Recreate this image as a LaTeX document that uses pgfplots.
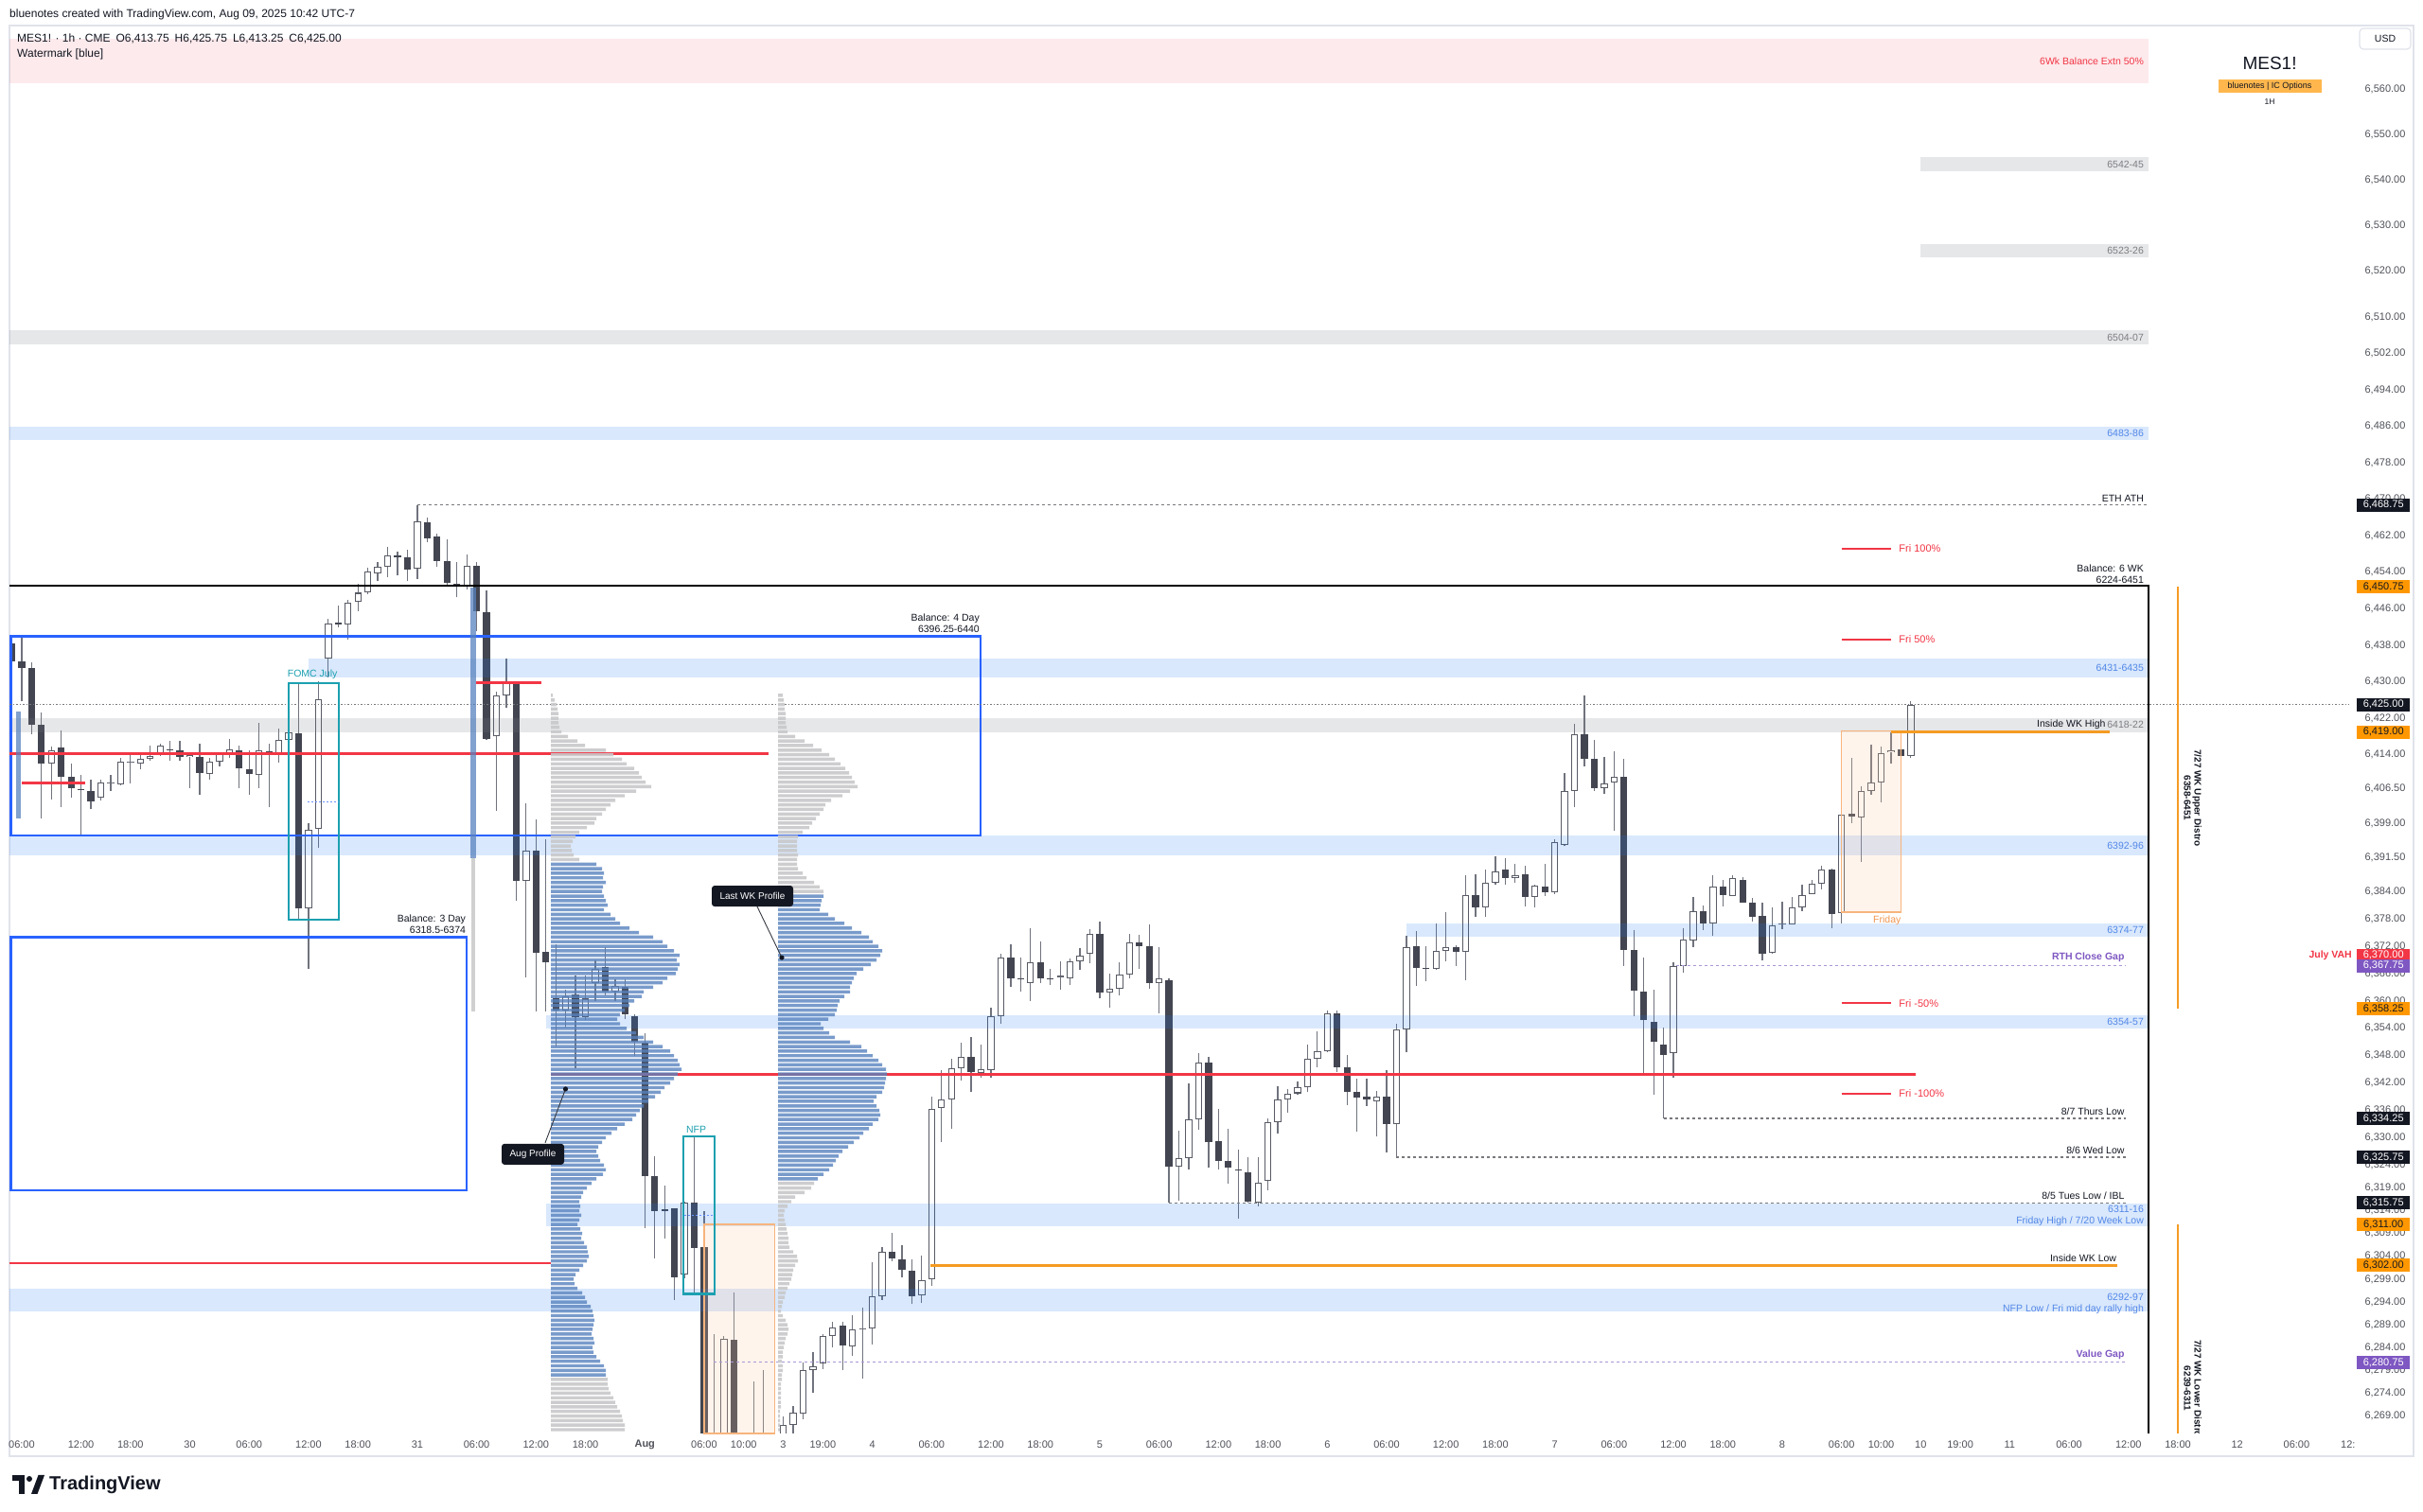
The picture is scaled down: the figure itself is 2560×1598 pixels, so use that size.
\documentclass[border=0pt]{standalone}
\usepackage{fontspec}
\setmainfont{Liberation Sans}
\usepackage{pgfplots}
\usepackage{pgfplotstable}
\pgfplotsset{compat=1.18}

\definecolor{tvblack}{RGB}{19,23,34}
\definecolor{ticktext}{RGB}{80,82,90}
\definecolor{tvframe}{RGB}{224,227,235}
\definecolor{bluebandc}{RGB}{33,120,243}
\definecolor{graybandc}{RGB}{120,123,134}
\definecolor{bandtext}{RGB}{82,135,232}
\definecolor{graytext}{RGB}{125,125,130}
\definecolor{tvred}{RGB}{242,54,69}
\definecolor{tvblue}{RGB}{41,98,255}
\definecolor{tvteal}{RGB}{28,160,176}
\definecolor{tvorange}{RGB}{255,152,0}
\definecolor{orangeline}{RGB}{245,155,35}
\definecolor{tvpurple}{RGB}{126,87,194}
\definecolor{lavender}{RGB}{170,150,215}
\definecolor{candledark}{RGB}{67,70,81}
\definecolor{candleborder}{RGB}{88,91,101}
\definecolor{wickc}{RGB}{112,115,125}
\definecolor{profblue}{RGB}{88,130,190}
\definecolor{profgray}{RGB}{200,200,202}
\definecolor{boxc}{RGB}{255,200,160}
\definecolor{boxedge}{RGB}{247,180,125}
\definecolor{fridaytext}{RGB}{240,150,80}
\definecolor{wmorange}{RGB}{255,183,77}
\definecolor{dotgray}{RGB}{120,120,125}

\pgfplotstableread{
i o h l c
3 6412.0 6415.75 6404.25 6415.0
8 6404.5 6408.5 6404.0 6408.0
9 6407.75 6409.5 6406.0 6408.0
10 6407.5 6413.25 6407.25 6412.5
11 6412.25 6414.25 6407.75 6412.5
12 6412.0 6414.25 6410.75 6413.0
13 6413.0 6416.0 6412.75 6413.75
14 6414.0 6416.5 6413.75 6416.0
17 6413.5 6414.25 6406.75 6414.0
19 6409.75 6413.25 6408.5 6412.5
20 6412.5 6414.25 6411.5 6414.25
21 6414.25 6417.5 6413.25 6415.25
24 6409.5 6421.0 6406.75 6415.0
26 6414.25 6419.75 6412.25 6417.25
27 6417.25 6419.5 6416.5 6419.0
29 6380.25 6399.0 6367.0 6397.5
30 6397.75 6430.0 6393.5 6426.25
31 6435.0 6443.75 6431.0 6442.75
33 6442.5 6448.0 6439.25 6447.25
34 6447.5 6451.5 6445.5 6449.5
35 6449.5 6455.0 6449.25 6454.25
36 6453.75 6456.25 6452.0 6455.25
37 6455.25 6459.5 6453.0 6457.75
40 6454.75 6468.75 6452.5 6465.25
45 6450.75 6458.0 6450.25 6455.5
48 6418.0 6427.75 6401.75 6427.0
49 6427.0 6435.0 6424.25 6429.75
51 6386.25 6403.25 6365.25 6393.0
55 6358.0 6362.5 6354.25 6361.0
57 6356.5 6365.5 6355.75 6360.5
58 6364.0 6369.0 6360.0 6367.0
60 6362.0 6364.75 6360.0 6363.25
67 6300.0 6316.0 6299.25 6315.75
71 6245.0 6286.5 6236.0 6286.0
73 6250.0 6262.0 6238.0 6255.0
74 6255.0 6276.5 6248.0 6258.0
75 6258.0 6279.0 6252.0 6262.0
77 6263.0 6269.0 6260.0 6267.0
78 6267.0 6271.25 6264.0 6269.75
79 6269.5 6280.75 6268.25 6279.0
80 6279.0 6283.0 6274.0 6280.0
81 6280.5 6287.0 6279.25 6286.5
82 6286.5 6289.75 6284.0 6288.5
84 6284.25 6291.0 6282.25 6288.0
85 6288.0 6292.75 6277.25 6288.25
86 6288.25 6302.75 6284.75 6295.25
87 6295.25 6306.0 6294.5 6305.0
91 6295.5 6304.25 6293.75 6298.75
92 6299.0 6339.0 6297.5 6336.25
93 6336.5 6344.75 6329.0 6338.5
94 6338.5 6347.25 6332.0 6345.25
95 6345.25 6350.75 6342.5 6347.75
97 6344.25 6350.5 6343.25 6345.0
98 6344.75 6358.5 6343.25 6356.75
99 6356.75 6370.25 6355.0 6369.5
102 6364.0 6376.0 6360.0 6368.5
105 6365.25 6368.75 6362.5 6365.5
106 6365.0 6369.25 6363.5 6368.75
107 6368.75 6371.5 6366.75 6370.0
108 6370.25 6375.75 6368.25 6374.75
110 6361.75 6366.0 6358.5 6362.75
111 6362.75 6368.5 6361.25 6365.75
112 6365.75 6374.75 6365.0 6372.75
115 6364.0 6371.75 6357.25 6365.0
117 6323.75 6331.5 6316.25 6325.5
118 6325.5 6342.0 6323.0 6334.0
119 6334.0 6348.5 6331.75 6346.5
125 6315.75 6325.75 6315.0 6320.25
126 6320.5 6334.25 6318.5 6333.5
127 6333.5 6341.25 6331.0 6338.5
128 6338.5 6340.75 6335.5 6339.75
129 6339.75 6342.25 6339.5 6341.0
130 6341.0 6350.5 6340.0 6347.25
131 6347.25 6353.25 6345.5 6349.0
132 6349.0 6358.0 6348.75 6357.25
137 6338.0 6340.25 6330.25 6339.0
139 6333.0 6355.0 6325.75 6353.75
140 6353.75 6374.25 6348.75 6371.75
143 6367.0 6377.0 6366.75 6371.0
144 6371.0 6379.5 6368.75 6371.75
146 6370.75 6387.5 6364.5 6383.25
148 6380.5 6388.75 6378.5 6386.0
149 6386.0 6391.75 6385.5 6388.5
151 6387.0 6390.0 6386.0 6387.5
153 6382.75 6385.5 6380.5 6385.25
155 6383.75 6395.5 6383.5 6394.75
156 6394.25 6410.0 6394.0 6406.0
157 6406.0 6420.75 6402.5 6418.5
160 6406.75 6413.5 6405.5 6407.75
161 6408.0 6414.75 6397.25 6409.25
167 6348.5 6368.5 6343.25 6367.75
168 6367.75 6376.0 6366.25 6373.5
169 6373.25 6382.75 6371.75 6379.75
171 6377.0 6387.5 6374.25 6385.0
173 6383.0 6387.5 6383.0 6387.0
177 6370.5 6380.5 6370.25 6376.5
178 6376.75 6381.75 6375.75 6377.0
179 6376.75 6382.75 6376.75 6380.5
180 6380.5 6385.5 6379.75 6383.25
181 6383.5 6386.5 6383.5 6385.75
182 6385.75 6389.75 6384.5 6388.75
184 6379.25 6401.0 6377.0 6400.75
186 6400.25 6407.0 6390.5 6406.0
187 6406.0 6416.25 6405.25 6408.0
188 6408.0 6415.75 6403.5 6414.25
189 6414.5 6419.0 6412.0 6415.0
191 6413.75 6425.75 6413.25 6425.0
}\upc

\pgfplotstableread{
i o h l c
-1 6438.5 6440.25 6433.0 6434.5
0 6434.5 6440.0 6425.75 6433.0
1 6433.0 6434.25 6418.5 6420.5
2 6420.5 6423.25 6400.0 6412.0
4 6415.5 6419.25 6402.5 6409.25
5 6409.25 6412.0 6404.5 6406.75
6 6406.5 6409.5 6396.25 6406.25
7 6406.0 6408.5 6402.0 6403.75
15 6415.25 6417.0 6412.75 6415.0
16 6415.0 6417.0 6412.75 6413.5
18 6413.5 6416.5 6405.25 6410.0
22 6415.0 6416.0 6406.75 6411.0
23 6410.75 6415.0 6405.25 6409.75
25 6414.75 6416.5 6402.5 6414.25
28 6418.75 6429.5 6378.0 6380.25
32 6443.0 6446.75 6442.0 6442.5
38 6457.75 6458.5 6453.25 6457.25
39 6457.25 6459.0 6452.0 6454.5
41 6465.0 6466.0 6460.5 6461.5
42 6461.75 6462.5 6455.25 6456.5
43 6456.5 6461.25 6451.25 6451.75
44 6451.5 6456.25 6448.5 6451.25
46 6455.5 6456.25 6441.0 6445.5
47 6445.25 6450.0 6417.25 6417.5
50 6429.75 6429.75 6382.0 6386.25
52 6393.0 6399.75 6357.75 6370.5
53 6370.75 6395.5 6357.75 6368.5
54 6360.5 6372.5 6350.0 6358.0
56 6361.5 6365.5 6345.25 6356.5
59 6367.5 6371.75 6361.25 6362.0
61 6363.0 6364.75 6356.0 6357.0
62 6356.75 6357.0 6348.0 6351.0
63 6350.75 6353.0 6310.25 6321.5
64 6321.5 6326.0 6303.5 6314.0
65 6314.25 6319.5 6308.0 6314.0
66 6314.5 6314.5 6294.5 6299.5
68 6315.75 6330.25 6295.5 6305.75
69 6306.0 6314.0 6240.0 6252.0
70 6252.0 6287.0 6228.0 6245.0
72 6285.75 6296.0 6244.0 6250.0
76 6262.0 6264.0 6255.0 6260.0
83 6288.75 6289.75 6279.0 6284.5
88 6305.0 6309.25 6303.0 6303.5
89 6303.25 6306.5 6299.5 6301.0
90 6300.75 6303.25 6293.5 6295.25
96 6347.75 6352.0 6340.0 6344.5
100 6369.5 6372.5 6363.0 6365.0
101 6365.0 6369.5 6362.0 6364.75
103 6368.5 6373.0 6364.0 6365.0
104 6365.0 6367.0 6363.5 6364.75
109 6374.75 6377.5 6360.5 6361.75
113 6372.75 6374.5 6367.0 6372.0
114 6372.0 6376.75 6362.75 6364.0
116 6364.5 6365.0 6315.75 6323.75
120 6346.5 6347.75 6323.5 6329.0
121 6329.25 6336.25 6323.0 6325.0
122 6325.0 6332.0 6320.0 6323.5
123 6323.0 6327.5 6312.25 6322.75
124 6322.5 6325.75 6315.75 6316.0
133 6357.25 6358.0 6344.5 6345.5
134 6345.5 6348.25 6337.25 6340.0
135 6340.0 6343.0 6331.25 6338.75
136 6339.0 6343.0 6337.0 6338.5
138 6339.0 6344.75 6326.75 6333.0
141 6372.0 6375.25 6363.25 6367.25
142 6367.25 6372.0 6364.25 6367.0
145 6371.75 6372.25 6367.75 6370.75
147 6383.25 6387.75 6378.5 6380.5
150 6388.75 6391.25 6385.5 6387.0
152 6387.75 6389.75 6380.75 6382.75
154 6385.0 6390.0 6383.0 6383.75
158 6418.5 6427.0 6411.5 6413.0
159 6413.0 6417.25 6406.0 6406.75
162 6409.25 6413.0 6367.75 6371.25
163 6371.25 6375.5 6356.75 6362.25
164 6362.0 6369.5 6344.0 6355.75
165 6355.5 6362.5 6339.5 6351.0
166 6350.5 6354.25 6334.25 6348.25
170 6379.75 6381.0 6375.5 6377.0
172 6385.0 6386.5 6380.75 6383.25
174 6386.5 6387.25 6381.5 6381.5
175 6381.5 6382.5 6377.5 6378.5
176 6378.75 6381.5 6369.0 6370.25
183 6388.75 6389.0 6376.0 6379.0
185 6401.0 6413.25 6399.0 6400.5
190 6415.25 6415.5 6413.5 6413.75
}\dnc

% Aug profile (volume as length in px from the profile start)
\pgfplotstableread{
p v
6427 2
6426 4
6425 6
6424 7
6423 8
6422 8
6421 8
6420 9
6419 11
6418 18
6417 28
6416 36
6415 58
6414 66
6413 75
6412 80
6411 88
6410 93
6409 96
6408 100
6407 106
6406 90
6405 78
6404 68
6403 63
6402 58
6401 54
6400 48
6399 46
6398 38
6397 30
6396 26
6395 23
6394 21
6393 22
6392 24
6391 30
6277 60
6276 60
6275 61
6274 63
6273 66
6272 68
6271 70
6270 73
6269 75
6268 76
6267 78
6266 78
}\augG

\pgfplotstableread{
p v
6390 48
6389 54
6388 56
6387 55
6386 58
6385 55
6384 54
6383 56
6382 58
6381 60
6380 56
6379 63
6378 68
6377 73
6376 83
6375 93
6374 108
6373 118
6372 123
6371 130
6370 136
6369 133
6368 136
6367 134
6366 132
6365 123
6364 118
6363 108
6362 98
6361 96
6360 88
6359 83
6358 78
6357 73
6356 70
6355 73
6354 80
6353 90
6352 98
6351 108
6350 118
6349 126
6348 130
6347 134
6346 136
6345 138
6344 134
6343 130
6342 126
6341 120
6340 116
6339 110
6338 103
6337 98
6336 94
6335 90
6334 86
6333 78
6332 70
6331 64
6330 58
6329 54
6328 50
6327 48
6326 50
6325 52
6324 56
6323 58
6322 55
6321 48
6320 43
6319 38
6318 34
6317 32
6316 30
6315 31
6314 30
6313 32
6312 30
6311 28
6310 31
6309 33
6308 32
6307 35
6306 38
6305 39
6304 40
6303 38
6302 34
6301 30
6300 26
6299 24
6298 25
6297 28
6296 33
6295 36
6294 38
6293 42
6292 44
6291 45
6290 46
6289 45
6288 44
6287 43
6286 45
6285 46
6284 44
6283 45
6282 48
6281 52
6280 56
6279 58
6278 58
}\augB

% Last week profile
\pgfplotstableread{
p v
6427 5
6426 6
6425 7
6424 7
6423 8
6422 8
6421 8
6420 9
6419 10
6418 18
6417 28
6416 37
6415 46
6414 54
6413 60
6412 66
6411 71
6410 75
6409 78
6408 81
6407 84
6406 76
6405 68
6404 56
6403 50
6402 48
6401 44
6400 40
6399 36
6398 33
6397 26
6396 21
6395 20
6394 20
6393 20
6392 21
6391 20
6390 20
6389 21
6388 26
6387 30
6386 38
6385 44
6384 48
6320 38
6319 35
6318 28
6317 18
6316 14
6315 10
6314 7
6313 6
6312 7
6311 8
6310 9
6309 10
6308 11
6307 11
6306 12
6305 16
6304 20
6303 21
6302 18
6301 16
6300 15
6299 14
6298 12
6297 10
6296 8
6295 7
6294 5
6293 4
6292 3
6291 5
6290 8
6289 10
6288 11
6287 10
6286 8
6285 7
6284 6
6283 5
6282 5
6281 4
6280 5
6279 5
6278 4
6277 4
6276 3
6275 3
6274 3
6273 3
6272 3
6271 3
6270 2
6269 2
6268 2
6267 2
6266 2
}\lwkG

\pgfplotstableread{
p v
6383 48
6382 46
6381 45
6380 44
6379 53
6378 60
6377 70
6376 78
6375 88
6374 96
6373 100
6372 106
6371 110
6370 108
6369 104
6368 98
6367 90
6366 83
6365 80
6364 78
6363 76
6362 76
6361 70
6360 65
6359 63
6358 62
6357 60
6356 53
6355 45
6354 48
6353 54
6352 60
6351 76
6350 88
6349 94
6348 100
6347 106
6346 110
6345 114
6344 115
6343 114
6342 113
6341 112
6340 110
6339 104
6338 101
6337 104
6336 107
6335 108
6334 106
6333 100
6332 96
6331 90
6330 86
6329 80
6328 74
6327 68
6326 64
6325 61
6324 58
6323 54
6322 48
6321 42
}\lwkB

\pgfplotsset{
  common/.style={at={(0pt,0pt)}, anchor=south west, scale only axis,
    width=2472pt, height=1488pt, ymin=6265.17, ymax=6573.88},
}
\tikzset{
  lab/.style={font=\fontsize{10.5}{11.5}\selectfont, inner sep=1pt},
  tag/.style={font=\fontsize{11}{12}\selectfont, inner sep=0pt,
    minimum width=56pt, minimum height=14pt, anchor=west},
}

\begin{document}
\begin{tikzpicture}
\path[use as bounding box] (-10pt,-83pt) rectangle (2550pt,1515pt);
\fill[white] (-10pt,-83pt) rectangle (2550pt,1515pt);
\draw[tvframe, line width=1.5pt] (0pt,-24pt) rectangle (2540pt,1488pt);

%================ main axis: bar index vs price
\begin{axis}[common,
  xmin=-1.2344, xmax=235.32,
  axis line style={draw=none}, major tick length=0pt,
  clip mode=individual,
  xtick={0,6,11,17,23,29,34,40,46,52,57,63,69,73,77,81,86,92,98,103,109,115,121,126,132,138,144,149,155,161,167,172,178,184,188,192,196,201,207,213,218,224,230},
  xticklabels={06:00,12:00,18:00,30,06:00,12:00,18:00,31,06:00,12:00,18:00,{\bfseries Aug},06:00,10:00,3,19:00,4,06:00,12:00,18:00,5,06:00,12:00,18:00,6,06:00,12:00,18:00,7,06:00,12:00,18:00,8,06:00,10:00,10,19:00,11,06:00,12:00,18:00,12,06:00},
  ytick={6560,6550,6540,6530,6520,6510,6502,6494,6486,6478,6470,6462,6454,6446,6438,6430,6422,6414,6406.5,6399,6391.5,6384,6378,6372,6366,6360,6354,6348,6342,6336,6330,6324,6319,6314,6309,6304,6299,6294,6289,6284,6279,6274,6269},
  yticklabel pos=right,
  scaled y ticks=false,
  tick label style={font=\fontsize{11}{13}\selectfont, text=ticktext},
  xticklabel style={anchor=center, yshift=-12pt},
  yticklabel style={anchor=center, xshift=38pt, /pgf/number format/.cd, fixed, fixed zerofill, precision=2, 1000 sep={,}, assume math mode=true},
]
% candles
\addplot[wickc, line width=1.25pt, quiver={u=0,v=\thisrow{h}-\thisrow{l}}] table[x=i,y=l]{\dnc};
\addplot[wickc, line width=1.25pt, quiver={u=0,v=\thisrow{h}-\thisrow{l}}] table[x=i,y=l]{\upc};
\addplot[candledark, line width=7.3pt, quiver={u=0,v=\thisrow{o}-\thisrow{c}}] table[x=i,y=c]{\dnc};
\addplot[candleborder, line width=7.3pt, quiver={u=0,v=\thisrow{c}-\thisrow{o}}] table[x=i,y=o]{\upc};
\addplot[white, line width=5.3pt, quiver={u=0,v={max(\thisrow{c}-\thisrow{o}-0.42,0.001)}}] table[x=i,y expr=\thisrow{o}+0.21]{\upc};

% bands
\fill[tvred, fill opacity=0.10] (axis cs:-1.2344,6561.25) rectangle (axis cs:215,6571);
\fill[graybandc, fill opacity=0.18] (axis cs:192,6542) rectangle (axis cs:215,6545);
\fill[graybandc, fill opacity=0.18] (axis cs:192,6523) rectangle (axis cs:215,6526);
\fill[graybandc, fill opacity=0.18] (axis cs:-1.2344,6504) rectangle (axis cs:215,6507);
\fill[graybandc, fill opacity=0.18] (axis cs:-1.2344,6418.9) rectangle (axis cs:215,6422);
\fill[bluebandc, fill opacity=0.17] (axis cs:-1.2344,6483) rectangle (axis cs:215,6486);
\fill[bluebandc, fill opacity=0.17] (axis cs:29,6430.9) rectangle (axis cs:215,6435);
\fill[bluebandc, fill opacity=0.17] (axis cs:-1.2344,6392) rectangle (axis cs:215,6396.2);
\fill[bluebandc, fill opacity=0.17] (axis cs:140,6374) rectangle (axis cs:215,6377);
\fill[bluebandc, fill opacity=0.17] (axis cs:53,6353.9) rectangle (axis cs:215,6356.9);
\fill[bluebandc, fill opacity=0.17] (axis cs:53,6310.5) rectangle (axis cs:215,6315.5);
\fill[bluebandc, fill opacity=0.17] (axis cs:-1.2344,6292) rectangle (axis cs:215,6297);

% orange boxes
\filldraw[fill=boxc, fill opacity=0.2, draw=boxedge, line width=1.3pt] (axis cs:69.0,6265.17) rectangle (axis cs:76.1,6311);
\filldraw[fill=boxc, fill opacity=0.2, draw=boxedge, line width=1.3pt] (axis cs:184.0,6379.5) rectangle (axis cs:190.0,6419.25);

% balance boxes
\draw[black, line width=2.2pt] (axis cs:-1.2344,6451) -- (axis cs:215,6451) -- (axis cs:215,6265.17);
\draw[tvblue, line width=2.6pt] (axis cs:-1.1,6396.25) rectangle (axis cs:96.95,6440);
\draw[tvblue, line width=2.6pt] (axis cs:-1.1,6318.5) rectangle (axis cs:45.0,6374);

% red lines
\draw[tvred, line width=2.6pt] (axis cs:-1.2344,6414.25) -- (axis cs:75.5,6414.25);
\draw[tvred, line width=2.6pt] (axis cs:0,6407.75) -- (axis cs:6.4,6407.75);
\draw[tvred, line width=2.6pt] (axis cs:45.9,6429.75) -- (axis cs:52.5,6429.75);
\draw[tvred, line width=3pt] (axis cs:53.5,6344) -- (axis cs:191.5,6344);
\draw[tvred, line width=2pt] (axis cs:-1.2344,6302.5) -- (axis cs:53.5,6302.5);
\draw[tvred, line width=2pt] (axis cs:184,6459.25) -- (axis cs:189.05,6459.25);
\draw[tvred, line width=2pt] (axis cs:184,6439.25) -- (axis cs:189.05,6439.25);
\draw[tvred, line width=2pt] (axis cs:184,6359.5) -- (axis cs:189.05,6359.5);
\draw[tvred, line width=2pt] (axis cs:184,6339.75) -- (axis cs:189.05,6339.75);

% dotted levels
\draw[dotgray, line width=0.9pt, dash pattern=on 1.5pt off 2pt] (axis cs:-1.2344,6425) -- (axis cs:235.32,6425);
\draw[dotgray, line width=1.1pt, dash pattern=on 3pt off 3pt] (axis cs:40,6468.75) -- (axis cs:215,6468.75);
\draw[lavender, line width=1.1pt, dash pattern=on 3pt off 3pt] (axis cs:167.3,6367.75) -- (axis cs:212.7,6367.75);
\draw[dotgray, line width=1.1pt, dash pattern=on 3pt off 3pt] (axis cs:166,6334.25) -- (axis cs:212.7,6334.25);
\draw[dotgray, line width=1.1pt, dash pattern=on 3pt off 3pt] (axis cs:139,6325.75) -- (axis cs:212.7,6325.75);
\draw[dotgray, line width=1.1pt, dash pattern=on 3pt off 3pt] (axis cs:116,6315.75) -- (axis cs:212.7,6315.75);
\draw[lavender, line width=1.1pt, dash pattern=on 3pt off 3pt] (axis cs:70,6280.75) -- (axis cs:212.7,6280.75);

% orange lines
\draw[orangeline, line width=2.4pt] (axis cs:189.05,6419) -- (axis cs:211.1,6419);
\draw[orangeline, line width=2.4pt] (axis cs:91.9,6302) -- (axis cs:211.9,6302);
\draw[orangeline, line width=2.4pt] (axis cs:218,6450.75) -- (axis cs:218,6358.25);
\draw[orangeline, line width=2.4pt] (axis cs:218,6311) -- (axis cs:218,6265.17);

% event boxes
\draw[tvteal, line width=2.2pt] (axis cs:27.0,6377.75) rectangle (axis cs:32.05,6429.75);
\draw[tvteal, line width=2.2pt] (axis cs:66.9,6295.75) rectangle (axis cs:70.05,6330.25);
\draw[tvblue!70, line width=1pt, dash pattern=on 2pt off 2pt] (axis cs:28.9,6403.75) -- (axis cs:32.0,6403.75);
\draw[tvblue!70, line width=1pt, dash pattern=on 2pt off 2pt] (axis cs:67.0,6313) -- (axis cs:70.0,6313);

% small session profiles
\fill[profblue, fill opacity=0.75] (axis cs:-0.56,6400) rectangle (axis cs:-0.09,6423.5);
\fill[profblue, fill opacity=0.75] (axis cs:45.37,6391.3) rectangle (axis cs:45.94,6450.7);
\fill[profgray, fill opacity=0.85] (axis cs:45.45,6357.7) rectangle (axis cs:45.85,6391.3);

% right-side labels
\node[lab, anchor=east, text=tvred] at (axis cs:214.66,6566) {6Wk Balance Extn 50\%};
\node[lab, anchor=east, text=graytext] at (axis cs:214.66,6543.5) {6542-45};
\node[lab, anchor=east, text=graytext] at (axis cs:214.66,6524.5) {6523-26};
\node[lab, anchor=east, text=graytext] at (axis cs:214.66,6505.5) {6504-07};
\node[lab, anchor=east, text=bandtext] at (axis cs:214.66,6484.5) {6483-86};
\node[lab, anchor=south east, text=tvblack] at (axis cs:214.66,6469.2) {ETH ATH};
\node[lab, anchor=south east, text=tvblack, align=right] at (axis cs:214.66,6451.4) {Balance: 6 WK\\6224-6451};
\node[lab, anchor=east, text=bandtext] at (axis cs:214.66,6433) {6431-6435};
\node[lab, anchor=south east, text=tvblack] at (axis cs:210.8,6419.4) {Inside WK High};
\node[lab, anchor=east, text=graytext] at (axis cs:214.66,6420.5) {6418-22};
\node[lab, anchor=east, text=bandtext] at (axis cs:214.66,6394) {6392-96};
\node[lab, anchor=east, text=bandtext] at (axis cs:214.66,6375.5) {6374-77};
\node[lab, anchor=south east, text=tvpurple, font=\bfseries\fontsize{10.5}{11.5}\selectfont] at (axis cs:212.7,6368.2) {RTH Close Gap};
\node[lab, anchor=east, text=bandtext] at (axis cs:214.66,6355.4) {6354-57};
\node[lab, anchor=south east, text=tvblack] at (axis cs:212.7,6334.7) {8/7 Thurs Low};
\node[lab, anchor=south east, text=tvblack] at (axis cs:212.7,6326.2) {8/6 Wed Low};
\node[lab, anchor=south east, text=tvblack] at (axis cs:212.7,6316.2) {8/5 Tues Low / IBL};
\node[lab, anchor=east, text=bandtext, align=right] at (axis cs:214.66,6312.9) {6311-16\\Friday High / 7/20 Week Low};
\node[lab, anchor=south east, text=tvblack] at (axis cs:211.9,6302.5) {Inside WK Low};
\node[lab, anchor=east, text=bandtext, align=right] at (axis cs:214.66,6293.6) {6292-97\\NFP Low / Fri mid day rally high};
\node[lab, anchor=south east, text=tvpurple, font=\bfseries\fontsize{10.5}{11.5}\selectfont] at (axis cs:212.7,6281.2) {Value Gap};
\node[lab, anchor=south east, text=tvblack, align=right] at (axis cs:96.95,6440.6) {Balance: 4 Day\\6396.25-6440};
\node[lab, anchor=south east, text=tvblack, align=right] at (axis cs:45.0,6374.6) {Balance: 3 Day\\6318.5-6374};
\node[lab, anchor=south, text=tvteal] at (axis cs:29.4,6430.3) {FOMC July};
\node[lab, anchor=south, text=tvteal] at (axis cs:68.2,6330.8) {NFP};
\node[lab, anchor=north, text=fridaytext] at (axis cs:188.6,6379) {Friday};
\node[lab, anchor=west, text=tvred, font=\fontsize{11}{12}\selectfont] at (axis cs:189.7,6459.25) {Fri 100\%};
\node[lab, anchor=west, text=tvred, font=\fontsize{11}{12}\selectfont] at (axis cs:189.7,6439.25) {Fri 50\%};
\node[lab, anchor=west, text=tvred, font=\fontsize{11}{12}\selectfont] at (axis cs:189.7,6359.5) {Fri -50\%};
\node[lab, anchor=west, text=tvred, font=\fontsize{11}{12}\selectfont] at (axis cs:189.7,6339.75) {Fri -100\%};
\node[lab, rotate=-90, anchor=south, align=center, text=tvblack, font=\bfseries\fontsize{10}{11}\selectfont] at (axis cs:218.5,6404.5) {7/27 WK Upper Distro\\6358-6451};
\begin{scope}
\clip (axis cs:-1.2344,6265.17) rectangle (axis cs:235.32,6573.88);
\node[lab, rotate=-90, anchor=south, align=center, text=tvblack, font=\bfseries\fontsize{10}{11}\selectfont] at (axis cs:218.5,6275) {7/27 WK Lower Distro\\6239-6311};
\end{scope}
\end{axis}

%================ Aug profile (origin at its left edge)
\begin{axis}[common, xmin=-572, xmax=1900, hide axis]
\addplot[xbar, bar width=0.72, fill=profgray, draw=none, fill opacity=0.9] table[x=v,y=p]{\augG};
\addplot[xbar, bar width=0.72, fill=profblue, draw=none, fill opacity=0.8] table[x=v,y=p]{\augB};
\end{axis}

%================ Last week profile
\begin{axis}[common, xmin=-812, xmax=1660, hide axis]
\addplot[xbar, bar width=0.72, fill=profgray, draw=none, fill opacity=0.9] table[x=v,y=p]{\lwkG};
\addplot[xbar, bar width=0.72, fill=profblue, draw=none, fill opacity=0.8] table[x=v,y=p]{\lwkB};
\end{axis}

%================ overlay: pixel x, price y
\begin{axis}[common, xmin=10, xmax=2482, hide axis, clip=false]
\addplot[draw=none] coordinates {(100,6400)};
\draw[tvblack!85, line width=0.9pt] (axis cs:800,6380.7) -- (axis cs:826,6369.5);
\fill[tvblack] (axis cs:826,6369.5) circle (2.6pt);
\node[fill=tvblack, rounded corners=3pt, text=white, font=\fontsize{10}{11}\selectfont, minimum width=86pt, minimum height=22pt, inner sep=2pt] at (axis cs:795,6383) {Last WK Profile};
\draw[tvblack!85, line width=0.9pt] (axis cs:576,6328.9) -- (axis cs:597.5,6340.7);
\fill[tvblack] (axis cs:597.5,6340.7) circle (2.6pt);
\node[fill=tvblack, rounded corners=3pt, text=white, font=\fontsize{10}{11}\selectfont, minimum width=66pt, minimum height=22pt, inner sep=2pt] at (axis cs:563,6326.4) {Aug Profile};
\node[anchor=east, inner sep=0pt, text=tvred, font=\bfseries\fontsize{10.5}{12}\selectfont] at (axis cs:2485,6370) {July VAH};
\node[tag, fill=tvblack, text=white] at (axis cs:2490,6468.75) {6,468.75};
\node[tag, fill=tvorange, text=tvblack] at (axis cs:2490,6450.75) {6,450.75};
\node[tag, fill=tvblack, text=white] at (axis cs:2490,6425) {6,425.00};
\node[tag, fill=tvorange, text=tvblack] at (axis cs:2490,6419) {6,419.00};
\node[tag, fill=tvred, text=white] at (axis cs:2490,6370) {6,370.00};
\node[tag, fill=tvpurple, text=white] at (axis cs:2490,6367.75) {6,367.75};
\node[tag, fill=tvorange, text=tvblack] at (axis cs:2490,6358.25) {6,358.25};
\node[tag, fill=tvblack, text=white] at (axis cs:2490,6334.25) {6,334.25};
\node[tag, fill=tvblack, text=white] at (axis cs:2490,6325.75) {6,325.75};
\node[tag, fill=tvblack, text=white] at (axis cs:2490,6315.75) {6,315.75};
\node[tag, fill=tvorange, text=tvblack] at (axis cs:2490,6311) {6,311.00};
\node[tag, fill=tvorange, text=tvblack] at (axis cs:2490,6302) {6,302.00};
\node[tag, fill=tvpurple, text=white] at (axis cs:2490,6280.75) {6,280.75};
\end{axis}

% texts around the chart
\node[anchor=west, inner sep=0pt, text=tvblack, font=\fontsize{12}{14}\selectfont] at (0pt,1500pt) {bluenotes created with TradingView.com, Aug 09, 2025 10:42 UTC-7};
\node[anchor=west, inner sep=0pt, text=tvblack, font=\fontsize{12}{14}\selectfont] at (8pt,1474pt) {MES1! · 1h · CME\enspace O6,413.75\enspace H6,425.75\enspace L6,413.25\enspace C6,425.00};
\node[anchor=west, inner sep=0pt, text=tvblack, font=\fontsize{12}{14}\selectfont] at (8pt,1458pt) {Watermark [blue]};
\node[text=tvblack, font=\fontsize{19}{22}\selectfont, inner sep=0pt] at (2388pt,1448pt) {MES1!};
\node[fill=wmorange, text=tvblack, font=\fontsize{9}{10}\selectfont, minimum width=109pt, minimum height=14pt, inner sep=0pt] at (2388pt,1423.5pt) {bluenotes | IC Options};
\node[text=tvblack, font=\fontsize{8.5}{10}\selectfont, inner sep=0pt] at (2388pt,1407pt) {1H};
\node[draw=tvframe, line width=1.2pt, rounded corners=4pt, minimum width=54pt, minimum height=22pt, inner sep=0pt, text=tvblack, font=\fontsize{10.5}{12}\selectfont] at (2510pt,1474pt) {USD};
\node[anchor=west, inner sep=0pt, text=ticktext, font=\fontsize{11}{13}\selectfont] at (2463pt,-12pt) {12:};
% footer logo
\fill[tvblack] (3pt,-44pt) rectangle (16pt,-50pt);
\fill[tvblack] (10pt,-44pt) rectangle (16pt,-64pt);
\fill[tvblack] (21pt,-48pt) circle (3pt);
\fill[tvblack] (23pt,-64pt) -- (29.5pt,-64pt) -- (37pt,-44pt) -- (30.5pt,-44pt) -- cycle;
\node[anchor=west, inner sep=0pt, text=tvblack, font=\bfseries\fontsize{20}{22}\selectfont] at (42pt,-54pt) {TradingView};
\end{tikzpicture}
\end{document}
